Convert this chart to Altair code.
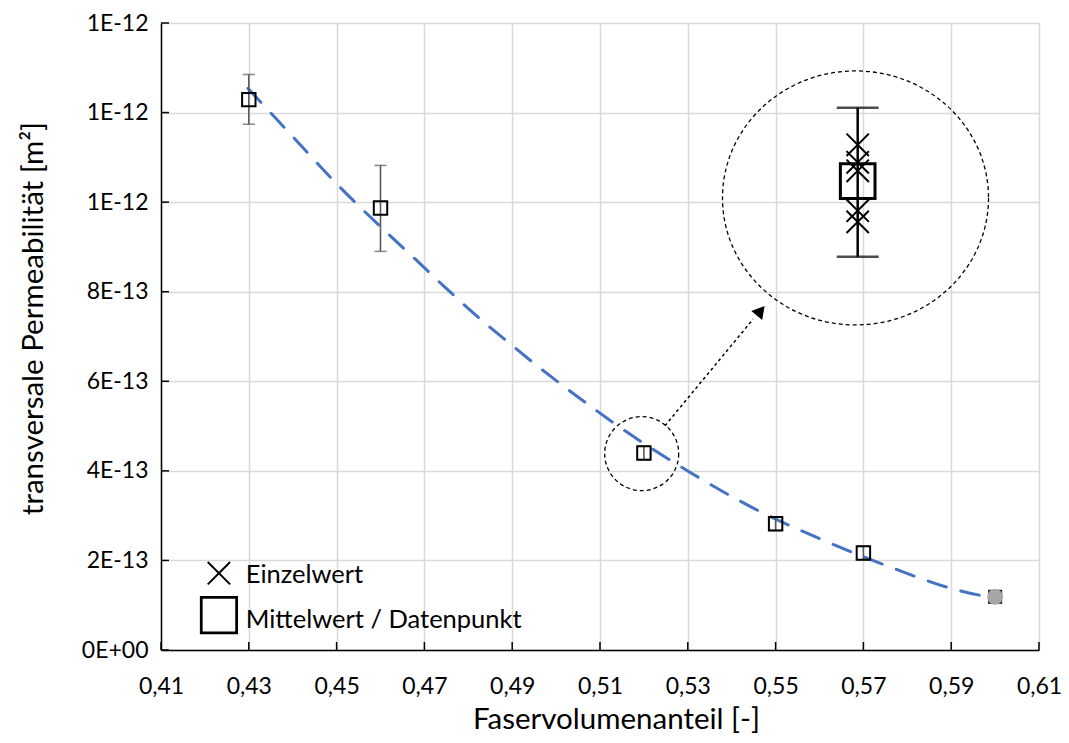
import altair as alt
import pandas as pd

# ---------------- data ----------------
fvc = [0.43, 0.46, 0.52, 0.55, 0.57, 0.60]                       # Faservolumenanteil
perm_mean = [1.229e-12, 0.987e-12, 0.440e-12, 0.282e-12, 0.2166e-12, 0.1187e-12]
perm_low = [1.174e-12, 0.890e-12, 0.425e-12, 0.267e-12, 0.2016e-12, None]
perm_high = [1.285e-12, 1.082e-12, 0.455e-12, 0.297e-12, 0.2316e-12, None]
marker_kind = ["open", "open", "open", "open", "open", "filled"]

# dashed trend line
trend_x = [0.4298, 0.4393, 0.4506, 0.4623, 0.4680, 0.4748, 0.4832, 0.4896, 0.4960,
           0.5025, 0.5093, 0.5134, 0.5298, 0.5445, 0.5599, 0.5751, 0.5902, 0.6001]
trend_k = [1.254e-12, 1.154e-12, 1.035e-12, 0.924e-12, 0.872e-12, 0.809e-12, 0.735e-12,
           0.683e-12, 0.632e-12, 0.583e-12, 0.534e-12, 0.505e-12, 0.401e-12, 0.319e-12,
           0.249e-12, 0.189e-12, 0.137e-12, 0.115e-12]

# magnified inset (single values / mean / error bar)
inset_single = [1.128e-12, 1.089e-12, 1.070e-12, 0.981e-12, 0.956e-12]
inset_mean = [1.047e-12]
inset_low = [0.878e-12]
inset_high = [1.211e-12]

x_ticks = [0.41, 0.43, 0.45, 0.47, 0.49, 0.51, 0.53, 0.55, 0.57, 0.59, 0.61]
y_ticks = [0.0, 2e-13, 4e-13, 6e-13, 8e-13, 1.0e-12, 1.2e-12, 1.4e-12]

legend_labels = ["Einzelwert", "Mittelwert / Datenpunkt"]

# ---------------- annotation anchors (data coordinates) ----------------
INSET_X = 0.5687
ELLIPSE_C = (0.5682, 1.0094e-12)
SMALL_C = (0.5195, 0.4385e-12)
ARROW_FROM = (0.5248, 0.5008e-12)
ARROW_TO = (0.5449, 0.739e-12)
ARROW_HEAD = (0.5466, 0.7574e-12)
LEG_SYM_X = 0.4232
LEG_TXT_X = 0.4293
LEG_SYM_Y = [0.1714e-12, 0.0779e-12]
LEG_TXT_Y = [0.1491e-12, 0.049e-12]

FONT = "Lato"
BLUE = "#4472C4"
ERR = "#5A5A5A"
X_PATH = "M -1 -1 L 1 1 M -1 1 L 1 -1"
ELLIPSE_PATH = ("M 1 0 C 1 0.5274 0.5523 0.955 0 0.955 C -0.5523 0.955 -1 0.5274 -1 0 "
                "C -1 -0.5274 -0.5523 -0.955 0 -0.955 C 0.5523 -0.955 1 -0.5274 1 0 Z")

X_TITLE = "Faservolumenanteil [-]"
Y_TITLE = "transversale Permeabilität [m²]"

xs = alt.Scale(domain=[0.41, 0.61], nice=False, zero=False)
ys = alt.Scale(domain=[0, 1.4e-12], nice=False, zero=True)

x_axis = alt.Axis(
    values=x_ticks,
    labelExpr="replace(format(datum.value, '.2f'), '.', ',')",
    title=X_TITLE,
    grid=True, ticks=False, tickSize=0,
    labelFlush=False, labelOverlap=False, labelBound=False,
    labelPadding=43, labelBaseline="alphabetic", labelFontSize=23,
    titleX=455, titleY=78, titleBaseline="alphabetic", titleAlign="center",
    titleFontSize=29.5,
)
y_axis = alt.Axis(
    values=y_ticks,
    labelExpr="datum.value == 0 ? '0E+00' : upper(format(datum.value, '.0e'))",
    title=Y_TITLE,
    grid=True, ticks=False, tickSize=0,
    labelFlush=False, labelOverlap=False, labelBound=False,
    labelPadding=13, labelFontSize=23,
    titleX=-128, titleY=295, titleAngle=-90, titleBaseline="middle", titleAlign="center",
    titleFontSize=29.5,
)


def X(field=None, datum=None):
    if datum is not None:
        return alt.X(datum=datum, type="quantitative", scale=xs, axis=x_axis, title=X_TITLE)
    return alt.X(field, type="quantitative", scale=xs, axis=x_axis, title=X_TITLE)


def Y(field=None, datum=None):
    if datum is not None:
        return alt.Y(datum=datum, type="quantitative", scale=ys, axis=y_axis, title=Y_TITLE)
    return alt.Y(field, type="quantitative", scale=ys, axis=y_axis, title=Y_TITLE)


df = pd.DataFrame({"x": fvc, "k": perm_mean, "lo": perm_low, "hi": perm_high, "kind": marker_kind})
df_err = df.dropna()
df_trend = pd.DataFrame({"x": trend_x, "k": trend_k})
df_single = pd.DataFrame({"k": inset_single})
df_inset = pd.DataFrame({"k": inset_mean, "lo": inset_low, "hi": inset_high})
df_xt = pd.DataFrame({"t": x_ticks})
df_yt = pd.DataFrame({"t": y_ticks})
one = alt.Data(values=[{"a": 1}])

# inside tick marks (Excel style)
xtick = alt.Chart(df_xt).mark_rule(color="black", strokeWidth=1.5, y2Offset=-8).encode(
    x=X("t"), y=Y(datum=0), y2=alt.Y2(datum=0))
ytick = alt.Chart(df_yt).mark_rule(color="black", strokeWidth=1.5, x2Offset=8).encode(
    y=Y("t"), x=X(datum=0.41), x2=alt.X2(datum=0.41))

trend = alt.Chart(df_trend).mark_line(
    color=BLUE, strokeWidth=3, strokeDash=[19, 15], strokeCap="round", interpolate="monotone"
).encode(x=X("x"), y=Y("k"))

err_rule = alt.Chart(df_err).mark_rule(color=ERR, strokeWidth=1.6).encode(
    x=X("x"), y=Y("lo"), y2="hi:Q")
err_cap_lo = alt.Chart(df_err).mark_tick(color=ERR, orient="horizontal", size=12, thickness=1.6).encode(
    x=X("x"), y=Y("lo"))
err_cap_hi = alt.Chart(df_err).mark_tick(color=ERR, orient="horizontal", size=12, thickness=1.6).encode(
    x=X("x"), y=Y("hi"))

squares = alt.Chart(df).transform_filter("datum.kind == 'open'").mark_point(
    shape="square", size=180, filled=False, color="black", strokeWidth=2, opacity=1
).encode(x=X("x"), y=Y("k"))

filled_sq = alt.Chart(df).transform_filter("datum.kind == 'filled'").mark_point(
    shape="square", size=200, filled=True, color="#222222", opacity=1
).encode(x=X("x"), y=Y("k"))
filled_circ = alt.Chart(df).transform_filter("datum.kind == 'filled'").mark_point(
    shape="circle", size=250, filled=True, color="#A6A6A6", opacity=1
).encode(x=X("x"), y=Y("k"))

# ---- annotations ----
small_circle = alt.Chart(one).mark_point(
    shape="circle", size=5476, filled=False, color="black", strokeWidth=1.3,
    strokeDash=[4, 3], opacity=1
).encode(x=X(datum=SMALL_C[0]), y=Y(datum=SMALL_C[1]))

ellipse = alt.Chart(one).mark_point(
    shape=ELLIPSE_PATH, size=70756, filled=False, color="black", strokeWidth=1.3,
    strokeDash=[4, 3], opacity=1
).encode(x=X(datum=ELLIPSE_C[0]), y=Y(datum=ELLIPSE_C[1]))

arrow_line = alt.Chart(one).mark_rule(color="black", strokeWidth=1.5, strokeDash=[3, 3]).encode(
    x=X(datum=ARROW_FROM[0]), y=Y(datum=ARROW_FROM[1]),
    x2=alt.X2(datum=ARROW_TO[0]), y2=alt.Y2(datum=ARROW_TO[1]))
arrow_head = alt.Chart(one).mark_point(
    shape="triangle-up", size=200, filled=True, color="black", angle=40, opacity=1
).encode(x=X(datum=ARROW_HEAD[0]), y=Y(datum=ARROW_HEAD[1]))

inset_rule = alt.Chart(df_inset).mark_rule(color="black", strokeWidth=2.5).encode(
    x=X(datum=INSET_X), y=Y("lo"), y2="hi:Q")
inset_cap_lo = alt.Chart(df_inset).mark_tick(color="black", orient="horizontal", size=42, thickness=2.5).encode(
    x=X(datum=INSET_X), y=Y("lo"))
inset_cap_hi = alt.Chart(df_inset).mark_tick(color="black", orient="horizontal", size=42, thickness=2.5).encode(
    x=X(datum=INSET_X), y=Y("hi"))
inset_square = alt.Chart(df_inset).mark_point(
    shape="square", size=1200, filled=False, color="black", strokeWidth=3, opacity=1
).encode(x=X(datum=INSET_X), y=Y("k"))
inset_x = alt.Chart(df_single).mark_point(
    shape=X_PATH, size=500, filled=False, color="black", strokeWidth=2, opacity=1
).encode(x=X(datum=INSET_X), y=Y("k"))

# ---- legend (drawn inside the plot) ----
leg_x = alt.Chart(one).mark_point(
    shape=X_PATH, size=500, filled=False, color="black", strokeWidth=2, opacity=1
).encode(x=X(datum=LEG_SYM_X), y=Y(datum=LEG_SYM_Y[0]))
leg_sq = alt.Chart(one).mark_point(
    shape="square", size=1250, filled=False, color="black", strokeWidth=2.8, opacity=1
).encode(x=X(datum=LEG_SYM_X), y=Y(datum=LEG_SYM_Y[1]))
df_leg = pd.DataFrame({"label": legend_labels, "ty": LEG_TXT_Y})
leg_txt = alt.Chart(df_leg).mark_text(
    align="left", baseline="alphabetic", font=FONT, fontSize=25.5, color="black"
).encode(x=X(datum=LEG_TXT_X), y=Y("ty"), text="label:N")

chart = alt.layer(
    xtick, ytick,
    trend, err_rule, err_cap_lo, err_cap_hi, squares, filled_sq, filled_circ,
    small_circle, arrow_line, arrow_head, ellipse,
    inset_rule, inset_cap_lo, inset_cap_hi, inset_square, inset_x,
    leg_x, leg_sq, leg_txt,
).properties(
    width=878, height=627,
    autosize=alt.AutoSizeParams(type="none"),
    padding={"left": 153, "top": 15, "right": 22, "bottom": 85},
    background="white",
).configure_view(
    stroke=None
).configure_axis(
    gridColor="#D9D9D9", gridWidth=1.5,
    domainColor="black", domainWidth=1.5,
    labelFont=FONT, titleFont=FONT, labelColor="black", titleColor="black",
    titleFontWeight="normal",
)

chart.save("out.html", embed_options={"renderer": "svg", "actions": False})
